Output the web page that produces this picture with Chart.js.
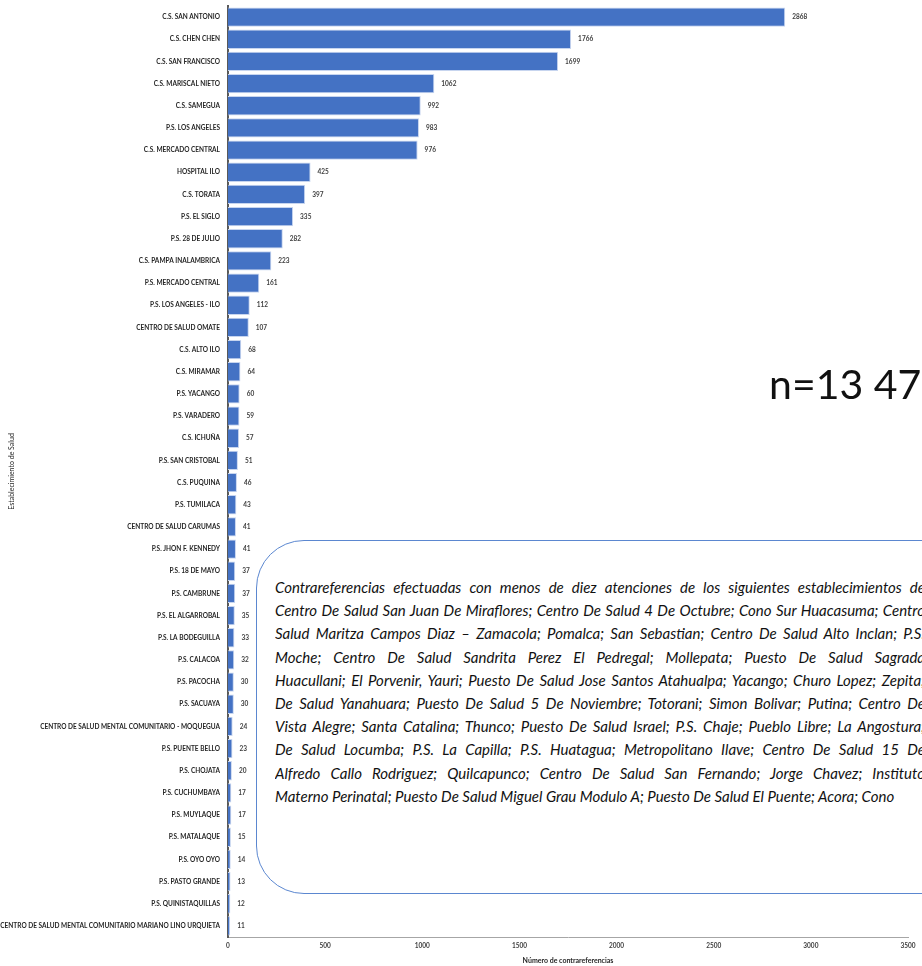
<!DOCTYPE html>
<html>
<head>
<meta charset="utf-8">
<script src="https://cdn.jsdelivr.net/npm/chart.js@4/dist/chart.umd.min.js"></script>
<style>
  html, body { margin: 0; padding: 0; background: #fff; overflow: hidden; }
  #wrap { position: relative; width: 922px; height: 966px; }
  #chartBox { position: absolute; left: 0; top: 0; width: 922px; height: 966px; }
  #note {
    position: absolute; left: 256px; top: 540px; width: 760px; height: 354px;
    border: 1px solid #5b87d0; border-radius: 48px; background: #fff;
    box-sizing: border-box;
  }
  #noteText {
    position: absolute; left: 275px; top: 576px; width: 650px;
    font-family: Lato, sans-serif; font-style: italic; font-size: 15px; color: #111;
  }
  #noteText div {
    height: 23.2px; line-height: 23.2px; overflow: hidden;
    text-align: justify; text-align-last: justify; white-space: normal;
  }
  #noteText div.last { text-align-last: left; }
  #total {
    position: absolute; left: 769px; top: 359px;
    font-family: Lato, sans-serif; font-size: 41px; color: #111; white-space: nowrap;
  }
</style>
</head>
<body>
<div id="wrap">
  <div id="chartBox"><canvas id="chart"></canvas></div>
  <div id="total">n=13 47</div>
  <div id="note"></div>
  <div id="noteText"></div>
</div>
<script>
const categories = [
  "C.S. SAN ANTONIO", "C.S. CHEN CHEN", "C.S. SAN FRANCISCO", "C.S. MARISCAL NIETO",
  "C.S. SAMEGUA", "P.S. LOS ANGELES", "C.S. MERCADO CENTRAL", "HOSPITAL ILO",
  "C.S. TORATA", "P.S. EL SIGLO", "P.S. 28 DE JULIO", "C.S. PAMPA INALAMBRICA",
  "P.S. MERCADO CENTRAL", "P.S. LOS ANGELES - ILO", "CENTRO DE SALUD OMATE", "C.S. ALTO ILO",
  "C.S. MIRAMAR", "P.S. YACANGO", "P.S. VARADERO", "C.S. ICHUÑA",
  "P.S. SAN CRISTOBAL", "C.S. PUQUINA", "P.S. TUMILACA", "CENTRO DE SALUD CARUMAS",
  "P.S. JHON F. KENNEDY", "P.S. 18 DE MAYO", "P.S. CAMBRUNE", "P.S. EL ALGARROBAL",
  "P.S. LA BODEGUILLA", "P.S. CALACOA", "P.S. PACOCHA", "P.S. SACUAYA",
  "CENTRO DE SALUD MENTAL COMUNITARIO - MOQUEGUA", "P.S. PUENTE BELLO", "P.S. CHOJATA", "P.S. CUCHUMBAYA",
  "P.S. MUYLAQUE", "P.S. MATALAQUE", "P.S. OYO OYO", "P.S. PASTO GRANDE",
  "P.S. QUINISTAQUILLAS", "CENTRO DE SALUD MENTAL COMUNITARIO MARIANO LINO URQUIETA"
];

const counts = [
  2868, 1766, 1699, 1062, 992, 983, 976, 425,
  397, 335, 282, 223, 161, 112, 107, 68,
  64, 60, 59, 57, 51, 46, 43, 41,
  41, 37, 37, 35, 33, 32, 30, 30,
  24, 23, 20, 17, 17, 15, 14, 13,
  12, 11
];

const xTicks = [0, 500, 1000, 1500, 2000, 2500, 3000, 3500];

const noteLines = [
  "Contrareferencias efectuadas con menos de diez atenciones de los siguientes establecimientos de",
  "Centro De Salud San Juan De Miraflores; Centro De Salud 4 De Octubre; Cono Sur Huacasuma; Centro",
  "Salud Maritza Campos Diaz \u2013 Zamacola; Pomalca; San Sebastian; Centro De Salud  Alto Inclan; P.S.",
  "Moche; Centro De Salud  Sandrita Perez El Pedregal; Mollepata; Puesto De Salud Sagrada",
  "Huacullani; El Porvenir, Yauri; Puesto De Salud Jose Santos Atahualpa; Yacango; Churo Lopez; Zepita;",
  "De Salud Yanahuara; Puesto De Salud 5 De Noviembre; Totorani; Simon Bolivar; Putina; Centro De",
  "Vista Alegre; Santa Catalina; Thunco; Puesto De Salud Israel; P.S. Chaje; Pueblo Libre; La Angostura;",
  "De Salud Locumba; P.S. La Capilla; P.S. Huatagua; Metropolitano Ilave; Centro De Salud 15 De",
  "Alfredo Callo Rodriguez; Quilcapunco; Centro De Salud San Fernando; Jorge Chavez; Instituto",
  "Materno Perinatal; Puesto De Salud Miguel Grau  Modulo A; Puesto De Salud El Puente; Acora; Cono"
];

const noteBox = document.getElementById("noteText");
noteLines.forEach((line, i) => {
  const div = document.createElement("div");
  div.textContent = line;
  if (i === noteLines.length - 1) div.className = "last";
  noteBox.appendChild(div);
});

// value labels at the end of each bar
const valueLabels = {
  id: "valueLabels",
  afterDatasetsDraw(chart) {
    const { ctx } = chart;
    const meta = chart.getDatasetMeta(0);
    ctx.save();
    ctx.font = "bold 6.5px Lato, sans-serif";
    ctx.fillStyle = "#404040";
    ctx.textBaseline = "middle";
    ctx.textAlign = "left";
    meta.data.forEach((bar, i) => {
      ctx.fillText(String(counts[i]), bar.x + 7, bar.y);
    });
    ctx.restore();
  },
};

new Chart(document.getElementById("chart"), {
  type: "bar",
  data: {
    labels: categories,
    datasets: [
      {
        data: counts,
        backgroundColor: "#4472c4",
        borderColor: "#c7d5ef",
        borderWidth: 1,
        barPercentage: 0.87,
        categoryPercentage: 1,
      },
    ],
  },
  options: {
    indexAxis: "y",
    responsive: true,
    maintainAspectRatio: false,
    animation: false,
    layout: { padding: { top: 6, right: 14, bottom: 0, left: 0 } },
    plugins: {
      legend: { display: false },
      tooltip: { enabled: false },
    },
    scales: {
      x: {
        min: 0,
        max: 3500,
        afterBuildTicks(scale) {
          scale.ticks = xTicks.map((v) => ({ value: v }));
        },
        afterFit(scale) {
          scale.height = 29;
        },
        grid: { display: false, drawTicks: false },
        border: { color: "#a6a6a6", width: 1 },
        ticks: {
          padding: 5,
          color: "#404040",
          font: { family: "Lato", size: 6.5, weight: "bold" },
          callback(value) {
            return String(value);
          },
        },
        title: {
          display: true,
          text: "Número de contrareferencias",
          color: "#262626",
          font: { family: "Lato", size: 7, weight: "bold" },
          padding: { top: 2, bottom: 1 },
        },
      },
      y: {
        afterFit(scale) {
          scale.width = 228;
          scale.paddingTop = 0;
          scale.paddingBottom = 0;
        },
        grid: { display: false, drawTicks: false },
        border: { color: "#595959", width: 2 },
        ticks: {
          padding: 8,
          autoSkip: false,
          color: "#262626",
          font: { family: "Lato", size: 6.5, weight: "bold" },
        },
        title: {
          display: true,
          text: "Establecimiento de Salud",
          color: "#262626",
          font: { family: "Lato", size: 7 },
          padding: { top: 8, bottom: 0 },
        },
      },
    },
  },
  plugins: [valueLabels],
});
</script>
</body>
</html>
